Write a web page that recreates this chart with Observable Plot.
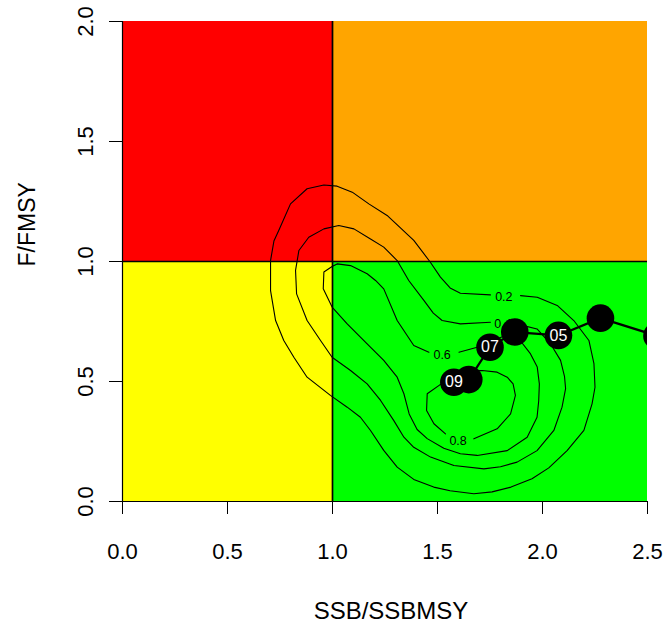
<!DOCTYPE html>
<html><head><meta charset="utf-8">
<script src="https://cdn.jsdelivr.net/npm/d3@7"></script>
<script src="https://cdn.jsdelivr.net/npm/@observablehq/plot@0.6"></script>
<style>html,body{margin:0;padding:0;background:#fff} #chart svg{display:block}</style>
</head><body><div id="chart"></div>
<script>
// Axis ticks and titles
const xTicks = [0, 0.5, 1, 1.5, 2, 2.5];
const yTicks = [0, 0.5, 1, 1.5, 2];
const xTitle = ["SSB/SSBMSY"];
const yTitle = ["F/FMSY"];

// Kobe quadrants
const quadrants = ["overfished & overfishing", "overfishing", "overfished", "healthy"];
const quadX1 = [0, 1, 0, 1];
const quadX2 = [1, 2.5, 1, 2.5];
const quadY1 = [1, 1, 0, 0];
const quadY2 = [2, 2, 1, 1];
const refSSB = [1];
const refF = [1];

// Trajectory (SSB/SSBMSY, F/FMSY by year)
const years = ["03", "04", "05", "06", "07", "08", "09"];
const ssbRatio = [2.545, 2.276, 2.076, 1.868, 1.750, 1.649, 1.578];
const fRatio = [0.690, 0.764, 0.692, 0.706, 0.643, 0.508, 0.497];
const labelledYears = ["05", "07", "09"];

// Density contours (open paths, gap where the label sits)
const contourLevels = ["0.2", "0.4", "0.6", "0.8"];
const c02x = [1.895,1.975,2.070,2.149,2.221,2.245,2.250,2.236,2.197,2.117,2.030,1.950,1.850,1.760,1.673,1.560,1.482,1.387,1.308,1.244,1.181,1.133,1.070,0.990,0.879,0.816,0.768,0.729,0.705,0.705,0.721,0.744,0.800,0.879,0.959,1.022,1.094,1.173,1.260,1.387,1.466,1.514,1.560,1.609,1.752];
const c02y = [0.858,0.851,0.817,0.754,0.671,0.574,0.476,0.407,0.296,0.212,0.140,0.095,0.060,0.040,0.032,0.045,0.060,0.092,0.143,0.213,0.296,0.351,0.393,0.442,0.518,0.601,0.671,0.754,0.879,1.004,1.085,1.129,1.240,1.303,1.319,1.314,1.289,1.240,1.192,1.088,0.997,0.935,0.890,0.868,0.861];
const c04x = [1.900,1.974,2.038,2.086,2.105,2.110,2.093,2.054,1.974,1.879,1.800,1.721,1.578,1.467,1.387,1.340,1.292,1.229,1.165,1.086,0.998,0.943,0.879,0.829,0.824,0.840,0.887,0.959,1.030,1.102,1.181,1.244,1.308,1.363,1.435,1.480,1.522,1.609,1.752];
const c04y = [0.735,0.719,0.657,0.588,0.520,0.470,0.393,0.296,0.212,0.164,0.145,0.136,0.150,0.185,0.226,0.268,0.337,0.421,0.490,0.546,0.601,0.671,0.754,0.865,0.963,1.046,1.101,1.136,1.150,1.136,1.094,1.060,1.004,0.921,0.838,0.785,0.754,0.740,0.747];
const c06x = [1.602,1.689,1.752,1.830,1.890,1.943,1.975,1.985,1.982,1.974,1.927,1.832,1.689,1.609,1.530,1.451,1.403,1.365,1.340,1.308,1.244,1.165,1.070,0.998,0.956,0.959,0.998,1.022,1.086,1.165,1.205,1.244,1.308,1.387,1.459];
const c06y = [0.622,0.643,0.665,0.695,0.675,0.615,0.560,0.490,0.420,0.351,0.268,0.212,0.192,0.199,0.222,0.262,0.300,0.365,0.449,0.518,0.588,0.657,0.740,0.810,0.886,0.956,0.979,0.990,0.983,0.949,0.921,0.886,0.754,0.650,0.622];
const c08x = [1.673,1.784,1.848,1.871,1.860,1.832,1.784,1.713,1.650,1.580,1.506,1.451,1.448,1.483,1.538];
const c08y = [0.261,0.303,0.365,0.442,0.490,0.518,0.539,0.546,0.545,0.530,0.483,0.449,0.379,0.324,0.282];
const contourLabelX = [1.816, 1.812, 1.522, 1.598];
const contourLabelY = [0.854, 0.740, 0.611, 0.251];

// Build tables
const quadRows = quadrants.map((name, i) => ({name, x1: quadX1[i], x2: quadX2[i], y1: quadY1[i], y2: quadY2[i]}));
const contourXs = [c02x, c04x, c06x, c08x];
const contourYs = [c02y, c04y, c06y, c08y];
const contourRows = [];
contourLevels.forEach((level, i) => contourXs[i].forEach((x, j) => contourRows.push({level, x, y: contourYs[i][j]})));
const contourLabelRows = contourLevels.map((level, i) => ({level, x: contourLabelX[i], y: contourLabelY[i]}));
const traj = years.map((year, i) => ({year, ssb: ssbRatio[i], f: fRatio[i]}));
const trajLabels = traj.filter(d => labelledYears.includes(d.year));

const fmt = d3.format(".1f");

const chart = Plot.plot({
  width: 663,
  height: 624,
  marginLeft: 122,
  marginRight: 16,
  marginTop: 21,
  marginBottom: 123,
  x: {domain: [0, 2.5]},
  y: {domain: [0, 2]},
  color: {domain: quadrants, range: ["#FF0000", "#FFA500", "#FFFF00", "#00FF00"]},
  style: {fontFamily: "'Liberation Sans', Arial, Helvetica, sans-serif", fontSize: "22px", color: "black", background: "white", overflow: "visible"},
  marks: [
    Plot.rect(quadRows, {x1: "x1", x2: "x2", y1: "y1", y2: "y2", fill: "name"}),
    Plot.line(contourRows, {x: "x", y: "y", z: "level", stroke: "black", strokeWidth: 1.1, curve: "linear"}),
    Plot.text(contourLabelRows, {x: "x", y: "y", text: "level", fontSize: 12.5, fill: "black"}),
    Plot.ruleX(refSSB, {stroke: "black", strokeWidth: 1.7}),
    Plot.ruleY(refF, {stroke: "black", strokeWidth: 1.7}),
    Plot.line(traj, {x: "ssb", y: "f", stroke: "black", strokeWidth: 2.2, clip: true}),
    Plot.dot(traj, {x: "ssb", y: "f", r: 13.8, fill: "black", stroke: null, clip: true}),
    Plot.text(trajLabels, {x: "ssb", y: "f", text: "year", fill: "white", fontSize: 16, clip: true}),
    Plot.ruleX([0], {stroke: "black", strokeWidth: 1.2}),
    Plot.ruleY([0], {stroke: "black", strokeWidth: 1.2}),
    Plot.axisX({ticks: xTicks, tickSize: 13, tickPadding: 29, tickFormat: fmt, label: null}),
    Plot.axisY({ticks: yTicks, tickSize: 13, tickPadding: 17, tickRotate: -90, tickFormat: fmt, label: null}),
    Plot.text(xTitle, {text: d => d, frameAnchor: "bottom", lineAnchor: "bottom", dx: 6, dy: 117, fontSize: 24, fill: "black"}),
    Plot.text(yTitle, {text: d => d, frameAnchor: "left", lineAnchor: "top", rotate: -90, dx: -104, dy: 5, fontSize: 23, fill: "black"})
  ]
});
document.getElementById("chart").appendChild(chart);
</script>
</body></html>
